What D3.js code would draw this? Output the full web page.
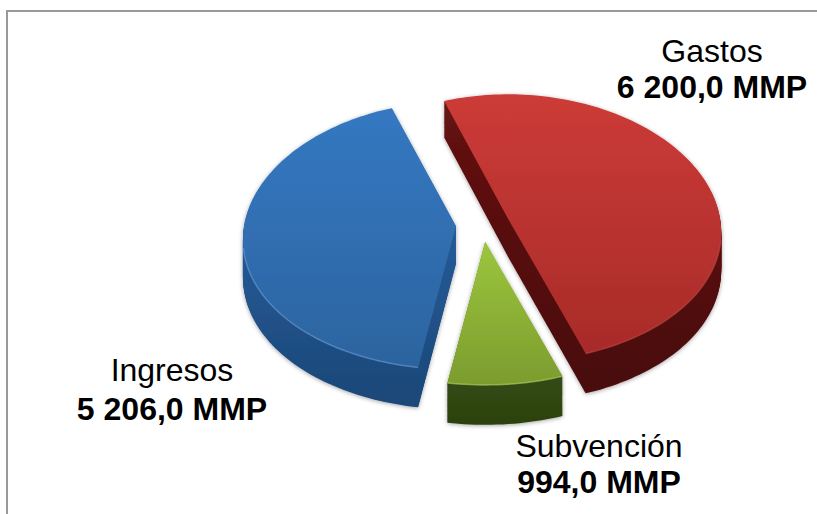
<!DOCTYPE html>
<html>
<head>
    <meta charset="utf-8" />
    <title>Subvencion</title>
    <script src="https://d3js.org/d3.v7.min.js"></script>
    <style>
        html, body { margin: 0; padding: 0; background: #fff; }
        svg { display: block; }
        text { font-family: "Liberation Sans", Arial, sans-serif; fill: #000; font-size: 32px; text-anchor: middle; }
        text.val { font-weight: bold; }
    </style>
</head>
<body>
    <svg width="817" height="514"></svg>
    <script>

        var categories = ["Gastos", "Subvención", "Ingresos"];
        var values = [6200.0, 994.0, 5206.0];
        var unit = "MMP";

        // top face light -> dark, wall light -> dark, rim
        var topColors = [["#cc3b37", "#a82b29"], ["#9cc63e", "#7c9c2e"], ["#3478c2", "#2c649f"]];
        var wallColors = [["#641212", "#480b0b"], ["#46641a", "#2c4210"], ["#2a66aa", "#1c4778"]];
        var rimColors = ["#c04a46", "#b5d468", "#6a9fd6"];

        // label anchors
        var labelX = [712, 599, 172];
        var labelY = [62, 457, 381];
        var labelGap = [36, 36, 39];

        var svg = d3.select("svg");

        var cx = 482.8, cy = 224.6,   // pie centre before the slices are pulled out
            rx = 212, ry = 134,
            pull = 0.127,
            depth = 38,
            startDeg = -19.5;

        var defs = svg.append("defs");

        var shadow = defs.append("filter").attr("id", "soft")
            .attr("x", "-10%").attr("y", "-10%").attr("width", "120%").attr("height", "120%");
        shadow.append("feDropShadow")
            .attr("dx", 0).attr("dy", 1).attr("stdDeviation", 2)
            .attr("flood-color", "#000").attr("flood-opacity", 0.35);

        function addGradient(id, colors, y1, y2) {
            var g = defs.append("linearGradient").attr("id", id)
                .attr("gradientUnits", "userSpaceOnUse")
                .attr("x1", 0).attr("x2", 0).attr("y1", y1).attr("y2", y2);
            g.append("stop").attr("offset", "0%").attr("stop-color", colors[0]);
            g.append("stop").attr("offset", "100%").attr("stop-color", colors[1]);
        }

        var xUnit = d3.scaleLinear().domain([-1, 1]).range([-rx, rx]);
        var yUnit = d3.scaleLinear().domain([-1, 1]).range([-ry, ry]);

        // slight perspective: the near side of the disc comes out larger
        function project(ox, oy, a, r, z) {
            var X = Math.sin(a) * r, Y = -Math.cos(a) * r;
            return [
                ox + xUnit(X) * (1 + 0.1 * Y),
                oy + yUnit(Y) * (1 + 0.07 * Y) + z * (1 + 0.05 * Y)
            ];
        }

        var pie = d3.pie().sort(null)
            .startAngle(startDeg * Math.PI / 180)
            .endAngle((startDeg + 360) * Math.PI / 180);

        var line = d3.line();
        var arcs = pie(values);
        var order = [2, 0, 1];

        function arcPoints(d, ox, oy, z) {
            var n = Math.ceil((d.endAngle - d.startAngle) * 40);
            return d3.range(n + 1).map(function (i) {
                return project(ox, oy, d.startAngle + (d.endAngle - d.startAngle) * i / n, 1, z);
            });
        }

        var g = svg.append("g");

        order.forEach(function (i) {
            var d = arcs[i];
            var mid = (d.startAngle + d.endAngle) / 2;
            var ox = cx + xUnit(Math.sin(mid)) * pull,
                oy = cy + yUnit(-Math.cos(mid)) * pull;

            var rim = arcPoints(d, ox, oy, 0);
            var ys = d3.extent(rim, function (p) { return p[1]; });
            ys[0] = Math.min(ys[0], oy);
            ys[1] = Math.max(ys[1], oy);

            addGradient("top" + i, topColors[i], ys[0], ys[1]);
            addGradient("wall" + i, wallColors[i], ys[0] + depth * 0.5, ys[1] + depth);

            var slice = g.append("g").attr("filter", "url(#soft)");

            // wall: the face repeated downwards
            d3.range(depth, 0, -1).forEach(function (z) {
                var pts = [[ox, oy + z]].concat(arcPoints(d, ox, oy, z));
                slice.append("path")
                    .attr("d", line(pts) + "Z")
                    .attr("fill", "url(#wall" + i + ")");
            });

            slice.append("path")
                .attr("d", line([[ox, oy]].concat(rim)) + "Z")
                .attr("fill", "url(#top" + i + ")");

            // light edge along the near rim
            var near = rim.filter(function (p) { return p[1] > oy + 20; });
            g.append("path")
                .attr("d", line(near))
                .attr("fill", "none")
                .attr("stroke", rimColors[i])
                .attr("stroke-width", 1.5)
                .attr("stroke-opacity", 0.6);
        });

        // frame, top and left only
        svg.append("path")
            .attr("d", "M7,514V11H817")
            .attr("fill", "none")
            .attr("stroke", "#999")
            .attr("stroke-width", 2);

        var fmt = d3.formatLocale({ decimal: ",", thousands: " ", grouping: [3], currency: ["", ""] }).format(",.1f");

        categories.forEach(function (c, i) {
            svg.append("text").attr("x", labelX[i]).attr("y", labelY[i]).text(c);
            svg.append("text").attr("class", "val")
                .attr("x", labelX[i]).attr("y", labelY[i] + labelGap[i])
                .text(fmt(values[i]) + " " + unit);
        });

    </script>
</body>
</html>
